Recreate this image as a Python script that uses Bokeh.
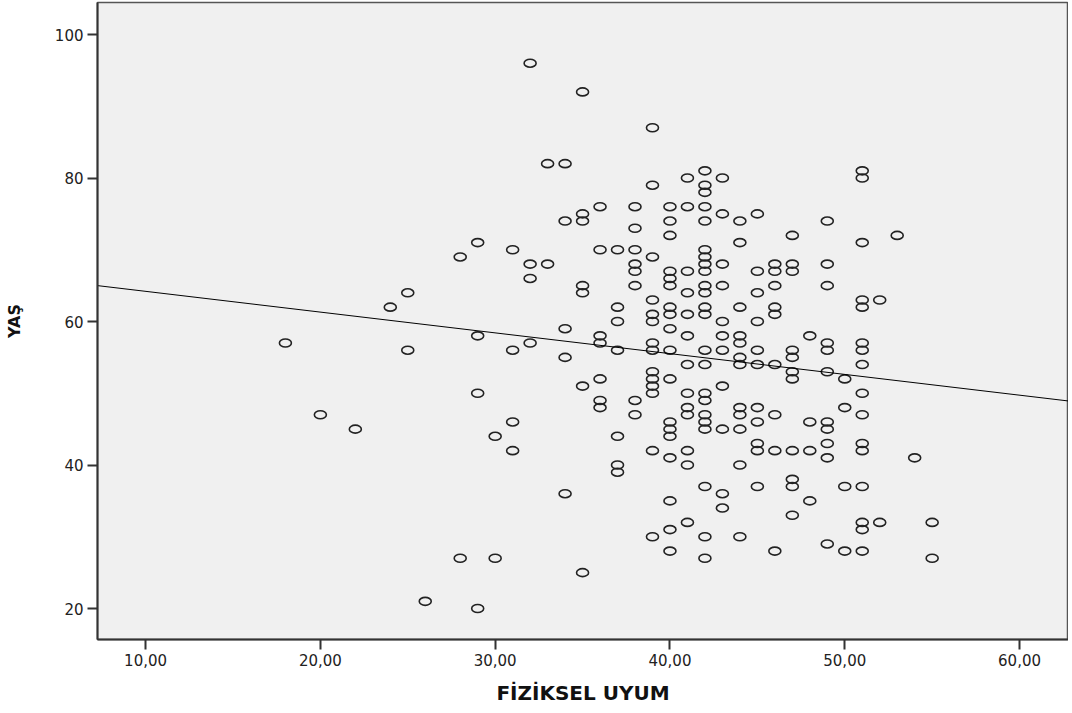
import numpy as np
from bokeh.plotting import figure
from bokeh.models import FixedTicker, Range1d, ColumnDataSource
from bokeh.embed import file_html
from bokeh.resources import INLINE

# FİZİKSEL UYUM (x) and YAŞ (y) values, column by column
fiziksel_uyum = [
    18, 20, 22, 24, 25, 25, 26, 28, 28, 29, 29, 29, 29, 30, 30,
    31, 31, 31, 31, 32, 32, 32, 32, 33, 33,
    34, 34, 34, 34, 34,
    35, 35, 35, 35, 35, 35, 35,
    36, 36, 36, 36, 36, 36, 36,
    37, 37, 37, 37, 37, 37, 37,
    38, 38, 38, 38, 38, 38, 38, 38,
    39, 39, 39, 39, 39, 39, 39, 39, 39, 39, 39, 39, 39, 39,
    40, 40, 40, 40, 40, 40, 40, 40, 40, 40, 40, 40, 40, 40, 40, 40, 40, 40,
    41, 41, 41, 41, 41, 41, 41, 41, 41, 41, 41, 41, 41,
    42, 42, 42, 42, 42, 42, 42, 42, 42, 42, 42, 42, 42, 42, 42, 42, 42, 42, 42, 42, 42, 42, 42,
    43, 43, 43, 43, 43, 43, 43, 43, 43, 43, 43,
    44, 44, 44, 44, 44, 44, 44, 44, 44, 44, 44, 44,
    45, 45, 45, 45, 45, 45, 45, 45, 45, 45, 45,
    46, 46, 46, 46, 46, 46, 46, 46, 46,
    47, 47, 47, 47, 47, 47, 47, 47, 47, 47, 47,
    48, 48, 48, 48,
    49, 49, 49, 49, 49, 49, 49, 49, 49, 49, 49,
    50, 50, 50, 50,
    51, 51, 51, 51, 51, 51, 51, 51, 51, 51, 51, 51, 51, 51, 51, 51,
    52, 52, 53, 54, 55, 55,
]
yas = [
    57, 47, 45, 62, 64, 56, 21, 69, 27, 71, 58, 50, 20, 44, 27,
    70, 56, 46, 42, 96, 68, 66, 57, 82, 68,
    82, 74, 59, 55, 36,
    92, 75, 74, 65, 64, 51, 25,
    76, 70, 58, 57, 52, 49, 48,
    70, 62, 60, 56, 44, 40, 39,
    76, 73, 70, 68, 67, 65, 49, 47,
    87, 79, 69, 63, 61, 60, 57, 56, 53, 52, 51, 50, 42, 30,
    76, 74, 72, 67, 66, 65, 62, 61, 59, 56, 52, 46, 45, 44, 41, 35, 31, 28,
    80, 76, 67, 64, 61, 58, 54, 50, 48, 47, 42, 40, 32,
    81, 79, 78, 76, 74, 70, 69, 68, 67, 65, 64, 62, 61, 56, 54, 50, 49, 47, 46, 45, 37, 30, 27,
    80, 75, 68, 65, 60, 58, 56, 51, 45, 36, 34,
    74, 71, 62, 58, 57, 55, 54, 48, 47, 45, 40, 30,
    75, 67, 64, 60, 56, 54, 48, 46, 43, 42, 37,
    68, 67, 65, 62, 61, 54, 47, 42, 28,
    72, 68, 67, 56, 55, 53, 52, 42, 38, 37, 33,
    58, 46, 42, 35,
    74, 68, 65, 57, 56, 53, 46, 45, 43, 41, 29,
    52, 48, 37, 28,
    81, 80, 71, 63, 62, 57, 56, 54, 50, 47, 43, 42, 37, 32, 31, 28,
    63, 32, 72, 41, 32, 27,
]

x_ticks = [10, 20, 30, 40, 50, 60]
x_tick_labels = ["10,00", "20,00", "30,00", "40,00", "50,00", "60,00"]
y_ticks = [20, 40, 60, 80, 100]
y_tick_labels = ["20", "40", "60", "80", "100"]

X_MIN, X_MAX = 7.25, 62.8
Y_MIN, Y_MAX = 15.68, 104.46

p = figure(
    frame_width=971, frame_height=637,
    min_border_left=97, min_border_right=0, min_border_top=2, min_border_bottom=62,
    x_range=Range1d(X_MIN, X_MAX), y_range=Range1d(Y_MIN, Y_MAX),
    output_backend="svg", toolbar_location=None,
)
p.background_fill_color = "#f0f0f0"
p.border_fill_color = "white"
p.outline_line_color = "#555555"
p.outline_line_width = 1.5
p.xgrid.visible = False
p.ygrid.visible = False

src = ColumnDataSource(dict(x=fiziksel_uyum, y=yas))
p.ellipse(x="x", y="y", width=12, height=8, width_units="screen",
          height_units="screen", source=src, fill_color=None,
          line_color="#222222", line_width=1.6)

# linear fit line
slope, intercept = np.polyfit(np.array(fiziksel_uyum, float), np.array(yas, float), 1)
lx = [X_MIN, X_MAX]
ly = [intercept + slope * v for v in lx]
p.line(lx, ly, line_color="black", line_width=1)

for ax in (p.xaxis[0], p.yaxis[0]):
    ax.axis_line_color = "#333333"
    ax.axis_line_width = 2
    ax.major_tick_line_color = "#333333"
    ax.major_tick_line_width = 2
    ax.major_tick_out = 10
    ax.major_tick_in = 0
    ax.minor_tick_line_color = None
    ax.major_label_text_font = "DejaVu Sans"
    ax.major_label_text_font_size = "15px"
    ax.major_label_text_color = "#222222"
    ax.axis_label_text_font = "DejaVu Sans"
    ax.axis_label_text_font_style = "bold"
    ax.axis_label_text_color = "#111111"

p.xaxis.ticker = FixedTicker(ticks=x_ticks)
p.xaxis.major_label_overrides = dict(zip(x_ticks, x_tick_labels))
p.yaxis.ticker = FixedTicker(ticks=y_ticks)
p.yaxis.major_label_overrides = dict(zip(y_ticks, y_tick_labels))
p.xaxis.major_label_standoff = 4
p.yaxis.major_label_standoff = 4
p.xaxis.axis_label = "FİZİKSEL UYUM"
p.yaxis.axis_label = "YAŞ"
p.xaxis.axis_label_text_font_size = "20px"
p.yaxis.axis_label_text_font_size = "16px"
p.xaxis.axis_label_standoff = 12
p.yaxis.axis_label_standoff = 28

open("out.html", "w").write(file_html(p, INLINE))
